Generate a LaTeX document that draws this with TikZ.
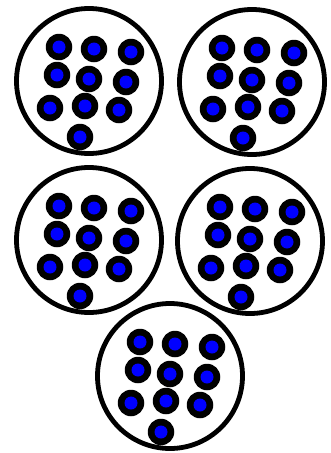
\documentclass[tikz,border=0pt]{standalone}
\begin{document}
\begin{tikzpicture}[x=1pt,y=-1pt,
  bag/.style={circle,draw=black,line width=4.8pt,minimum size=145pt,inner sep=0pt},
  dotring/.style={circle,fill=black,minimum size=26.5pt,inner sep=0pt},
  dotcore/.style={circle,fill=blue,minimum size=13pt,inner sep=0pt}]
\useasboundingbox (0,0) rectangle (330,453);
\foreach \n/\cx/\cy in {a/89/81, b/252/82, c/89/240, d/250/241, e/170/376}{
  \node[bag] (\n) at (\cx,\cy) {};
  \foreach \i/\dx/\dy in {1/-30/-34, 2/5/-32, 3/42/-29, 4/-32/-6, 5/0/-2, 6/37/1, 7/-39/27, 8/-4/25, 9/30/29, 10/-9/56}{
    \node[dotring] (\n\i) at (\cx+\dx,\cy+\dy) {};
    \node[dotcore] (\n\i c) at (\n\i) {};
  }
}
\end{tikzpicture}
\end{document}
